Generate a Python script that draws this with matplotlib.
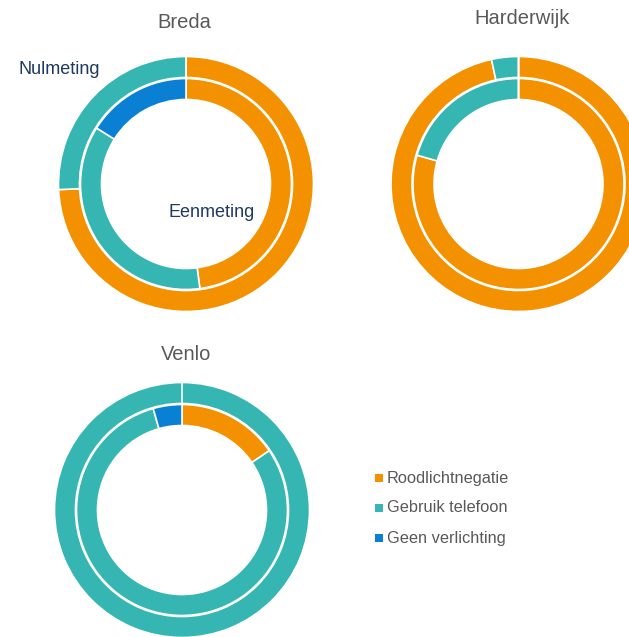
import matplotlib
matplotlib.use('Agg')
import matplotlib.pyplot as plt

W, H = 629, 637

categories = ["Roodlichtnegatie", "Gebruik telefoon", "Geen verlichting"]
colors = ["#f49100", "#35b6b3", "#0a80d5"]

cities = ["Breda", "Harderwijk", "Venlo"]
# outer ring = Nulmeting, inner ring = Eenmeting (percentages per category)
nulmeting = [
    [74.3, 25.7, 0.0],
    [96.6, 3.4, 0.0],
    [0.0, 100.0, 0.0],
]
eenmeting = [
    [47.9, 36.0, 16.1],
    [79.4, 20.6, 0.0],
    [15.5, 80.1, 4.4],
]

# layout in pixels, y measured from the top
centers = [(186, 184), (518.5, 184), (182, 510)]
title_pos = [(184.5, 27.5), (522.5, 23.5), (186.5, 360.5)]


def flip(y):
    return H - y


fig = plt.figure(figsize=(W / 100, H / 100), dpi=100)
ax = fig.add_axes([0, 0, 1, 1])

for i, city in enumerate(cities):
    cx, cy = centers[i]
    ax.pie(nulmeting[i], colors=colors, radius=127.5, center=(cx, flip(cy)),
           startangle=90, counterclock=False,
           wedgeprops=dict(width=21, edgecolor="white", linewidth=1.2))
    ax.pie(eenmeting[i], colors=colors, radius=105.5, center=(cx, flip(cy)),
           startangle=90, counterclock=False,
           wedgeprops=dict(width=21, edgecolor="white", linewidth=1.2))
    tx, ty = title_pos[i]
    ax.text(tx, flip(ty), city, ha="center", va="baseline", fontsize=14.5,
            color="#595959", family="Liberation Sans")

# ring labels on Breda
ax.text(18.5, flip(74), "Nulmeting", ha="left", va="baseline", fontsize=13,
        color="#1f3a60", family="Liberation Sans")
ax.text(168, flip(217), "Eenmeting", ha="left", va="baseline", fontsize=13,
        color="#1f3a60", family="Liberation Sans")

# legend
for j, cat in enumerate(categories):
    base = 482.5 + j * 30
    ax.scatter([378.5], [flip(base - 5)], marker="s", s=26, color=colors[j],
               linewidths=0)
    ax.text(387, flip(base), cat, ha="left", va="baseline", fontsize=11.8,
            color="#595959", family="Liberation Sans")

ax.set_xlim(0, W)
ax.set_ylim(0, H)
ax.set_aspect("auto")
ax.axis("off")

fig.savefig("out.png", dpi=100)
